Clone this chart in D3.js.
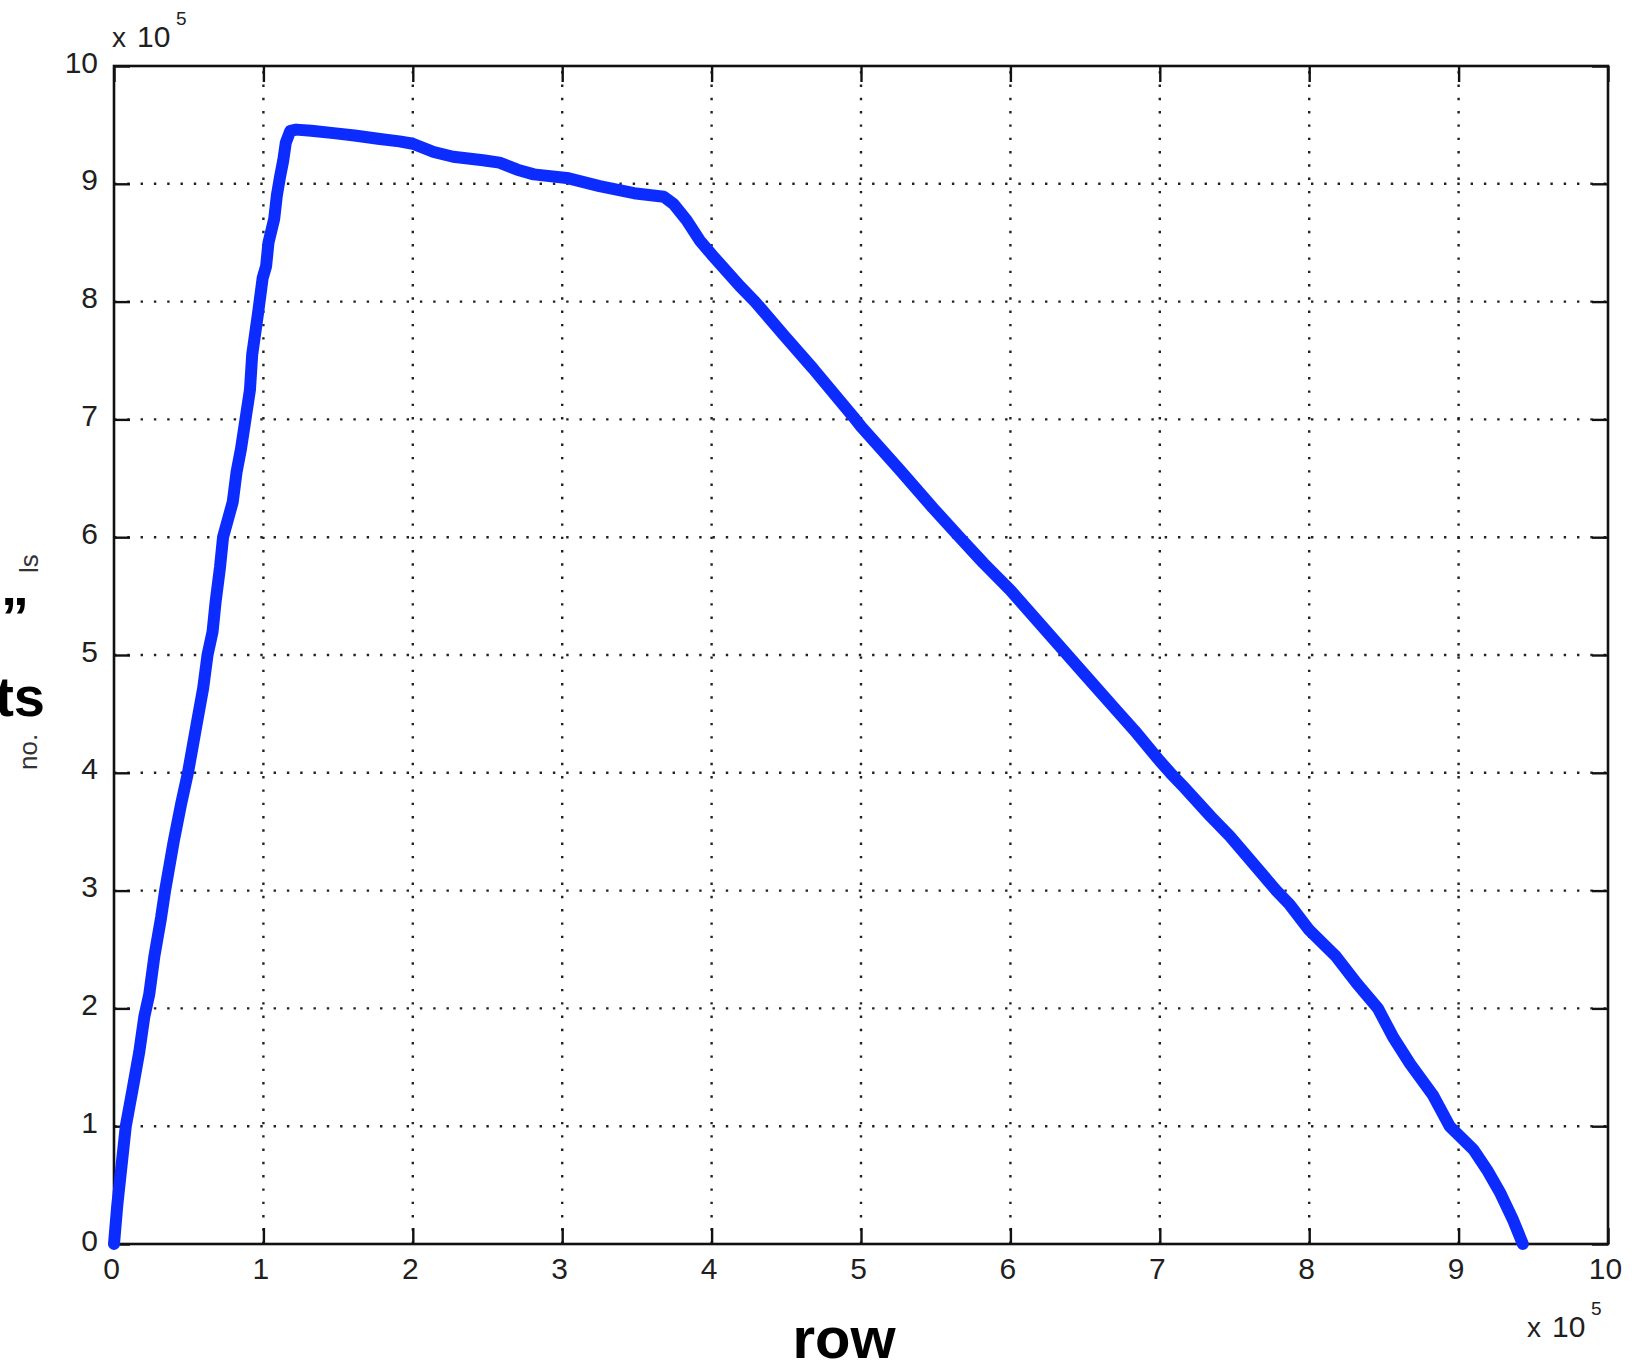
<!DOCTYPE html>
<html>
<head>
<meta charset="utf-8">
<script src="https://cdn.jsdelivr.net/npm/d3@7/dist/d3.min.js"></script>
<style>
  html, body { margin: 0; padding: 0; background: #fff; }
  svg { display: block; }
</style>
</head>
<body>
<div id="chart"></div>
<script>
// Row position (x 10^5) against pixel count (x 10^5)
const rowPositions = [
  0, 0.022, 0.05, 0.079, 0.105, 0.124, 0.169, 0.203, 0.236, 0.27, 0.315, 0.342,
  0.40, 0.45, 0.495, 0.55, 0.597, 0.626, 0.66, 0.68, 0.71, 0.73, 0.795, 0.82,
  0.85, 0.88, 0.91, 0.925, 0.964, 0.995, 1.018, 1.034, 1.072, 1.09, 1.11, 1.133,
  1.15, 1.18, 1.22, 1.32, 1.47, 1.61, 1.78, 1.91, 2.0, 2.14, 2.27, 2.47, 2.58,
  2.70, 2.81, 3.03, 3.25, 3.48, 3.68, 3.744, 3.833, 3.92, 4.0, 4.19, 4.29, 4.48,
  4.68, 4.95, 5.0, 5.26, 5.48, 5.66, 5.82, 6.0, 6.354, 6.5, 6.71, 6.83, 7.0,
  7.07, 7.16, 7.34, 7.47, 7.78, 7.87, 8.0, 8.18, 8.32, 8.46, 8.56, 8.675, 8.83,
  8.94, 9.10, 9.19, 9.28, 9.366, 9.43
];
const pixelCounts = [
  0, 0.33, 0.66, 1.0, 1.18, 1.31, 1.63, 1.93, 2.12, 2.44, 2.77, 3.0,
  3.42, 3.74, 4.0, 4.39, 4.72, 5.0, 5.2, 5.45, 5.75, 6.0, 6.3, 6.55,
  6.75, 7.0, 7.25, 7.55, 7.9, 8.2, 8.3, 8.5, 8.7, 8.9, 9.05, 9.2,
  9.35, 9.45, 9.46, 9.45, 9.43, 9.41, 9.38, 9.36, 9.34, 9.27, 9.23, 9.20, 9.18,
  9.12, 9.08, 9.05, 8.98, 8.92, 8.89, 8.83, 8.69, 8.52, 8.40, 8.13, 8.0, 7.72,
  7.43, 7.02, 6.94, 6.57, 6.25, 6.0, 5.78, 5.55, 5.04, 4.83, 4.53, 4.36, 4.1,
  4.0, 3.88, 3.63, 3.46, 3.0, 2.88, 2.665, 2.44, 2.21, 2.0, 1.76, 1.53, 1.26,
  1.0, 0.80, 0.63, 0.43, 0.20, 0.0
];
const xTicks = [0, 1, 2, 3, 4, 5, 6, 7, 8, 9, 10];
const yTicks = [0, 1, 2, 3, 4, 5, 6, 7, 8, 9, 10];
const axisExponent = "5";

const W = 1632, H = 1369;
const plot = { left: 114, top: 66, right: 1608, bottom: 1244 };
const tickLen = 16;
const labelFont = "'Liberation Sans', Arial, Helvetica, sans-serif";
const labelColor = "#1f1f1f";

const svg = d3.select("#chart").append("svg")
  .attr("width", W).attr("height", H)
  .style("background", "#fff");

const x = d3.scaleLinear().domain([0, 10]).range([plot.left, plot.right]);
const y = d3.scaleLinear().domain([0, 10]).range([plot.bottom, plot.top]);

// dotted grid
const grid = svg.append("g").attr("class", "grid");
grid.selectAll("line.gx").data(xTicks.filter(d => d > 0 && d < 10)).join("line")
  .attr("x1", d => x(d)).attr("x2", d => x(d))
  .attr("y1", plot.bottom).attr("y2", plot.top)
  .attr("stroke", "#222").attr("stroke-width", 2.4)
  .attr("stroke-dasharray", "2.4 10.9");
grid.selectAll("line.gy").data(yTicks.filter(d => d > 0 && d < 10)).join("line")
  .attr("x1", plot.left).attr("x2", plot.right)
  .attr("y1", d => y(d)).attr("y2", d => y(d))
  .attr("stroke", "#222").attr("stroke-width", 2.4)
  .attr("stroke-dasharray", "2.4 10.9");

// axes with inward ticks on all four sides
function styleAxis(g) {
  g.select(".domain").remove();
  g.selectAll(".tick line").attr("stroke", "#111").attr("stroke-width", 2.4);
  g.selectAll(".tick text")
    .attr("font-family", labelFont).attr("font-size", 30)
    .attr("fill", labelColor);
}

svg.append("g")
  .attr("transform", `translate(0,${plot.bottom})`)
  .call(d3.axisBottom(x).tickValues(xTicks).tickFormat(d3.format("d"))
    .tickSizeInner(-tickLen).tickSizeOuter(0).tickPadding(14))
  .call(styleAxis)
  .call(g => g.selectAll(".tick text").attr("dx", -3));

svg.append("g")
  .attr("transform", `translate(0,${plot.top})`)
  .call(d3.axisTop(x).tickValues(xTicks).tickFormat("")
    .tickSizeInner(-tickLen).tickSizeOuter(0))
  .call(styleAxis);

svg.append("g")
  .attr("transform", `translate(${plot.left},0)`)
  .call(d3.axisLeft(y).tickValues(yTicks).tickFormat(d3.format("d"))
    .tickSizeInner(-tickLen).tickSizeOuter(0).tickPadding(16))
  .call(styleAxis)
  .call(g => g.selectAll(".tick text").attr("dy", "0.2em"));

svg.append("g")
  .attr("transform", `translate(${plot.right},0)`)
  .call(d3.axisRight(y).tickValues(yTicks).tickFormat("")
    .tickSizeInner(-tickLen).tickSizeOuter(0))
  .call(styleAxis);

// axes box
svg.append("rect")
  .attr("x", plot.left).attr("y", plot.top)
  .attr("width", plot.right - plot.left).attr("height", plot.bottom - plot.top)
  .attr("fill", "none").attr("stroke", "#111").attr("stroke-width", 2.6);

// data line
const pts = rowPositions.map((r, i) => [r, pixelCounts[i]]);
svg.append("path")
  .datum(pts)
  .attr("d", d3.line().x(d => x(d[0])).y(d => y(d[1])))
  .attr("fill", "none")
  .attr("stroke", "#0c2cff")
  .attr("stroke-width", 12)
  .attr("stroke-linejoin", "round")
  .attr("stroke-linecap", "round");

// exponent labels
function exponent(xPos, baseY) {
  const g = svg.append("g").attr("font-family", labelFont).attr("fill", labelColor);
  g.append("text").attr("x", xPos).attr("y", baseY).attr("font-size", 28).text("x");
  g.append("text").attr("x", xPos + 25).attr("y", baseY).attr("font-size", 30).text("10");
  g.append("text").attr("x", xPos + 64).attr("y", baseY - 22).attr("font-size", 19).text(axisExponent);
}
exponent(112, 47);
exponent(1527, 1337);

// y-axis caption fragments
svg.append("text")
  .attr("transform", "translate(37,770) rotate(-90)")
  .attr("font-family", labelFont).attr("font-size", 26).attr("fill", "#333")
  .text("no.");
svg.append("text")
  .attr("transform", "translate(38,573) rotate(-90)")
  .attr("font-family", labelFont).attr("font-size", 26).attr("fill", "#333")
  .text("ls");

// bold captions
const boldFont = "'Liberation Sans', Arial, Helvetica, sans-serif";
svg.append("text")
  .attr("x", 29).attr("y", 636)
  .attr("text-anchor", "end")
  .attr("font-family", boldFont).attr("font-weight", "bold").attr("font-size", 56)
  .attr("fill", "#000").text("\u201D");
svg.append("text")
  .attr("x", 45).attr("y", 716)
  .attr("text-anchor", "end")
  .attr("font-family", boldFont).attr("font-weight", "bold").attr("font-size", 56)
  .attr("fill", "#000").text("ts");
svg.append("text")
  .attr("x", 844).attr("y", 1358)
  .attr("text-anchor", "middle")
  .attr("font-family", boldFont).attr("font-weight", "bold").attr("font-size", 58)
  .attr("fill", "#000").text("row");
</script>
</body>
</html>
